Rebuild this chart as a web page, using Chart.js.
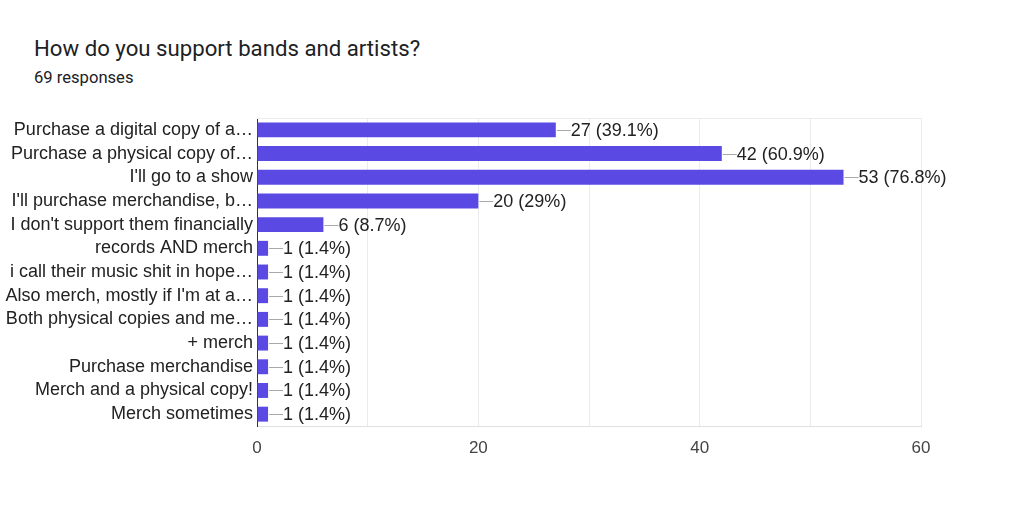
<!DOCTYPE html>
<html>
<head>
<meta charset="utf-8">
<script src="https://cdn.jsdelivr.net/npm/chart.js@4.4.0/dist/chart.umd.min.js"></script>
<style>
  html, body { margin: 0; padding: 0; background: #fff; }
  #wrap { position: relative; width: 1024px; height: 515px; font-family: Roboto, Arial, sans-serif; }
  #title { position: absolute; left: 34px; top: 35px; font-size: 22.2px; color: #202124; white-space: nowrap; }
  #sub { position: absolute; left: 34px; top: 68px; font-size: 16.6px; color: #202124; white-space: nowrap; }
  canvas { position: absolute; left: 0; top: 0; }
</style>
</head>
<body>
<div id="wrap">
  <div id="title">How do you support bands and artists?</div>
  <div id="sub">69 responses</div>
  <canvas id="c" width="1024" height="515"></canvas>
</div>
<script>
const categories = [
  "Purchase a digital copy of a\u2026",
  "Purchase a physical copy of\u2026",
  "I'll go to a show",
  "I'll purchase merchandise, b\u2026",
  "I don't support them financially",
  "records AND merch",
  "i call their music shit in hope\u2026",
  "Also merch, mostly if I'm at a\u2026",
  "Both physical copies and me\u2026",
  "+ merch",
  "Purchase merchandise",
  "Merch and a physical copy!",
  "Merch sometimes"
];
const counts = [27, 42, 53, 20, 6, 1, 1, 1, 1, 1, 1, 1, 1];
const percents = ["39.1", "60.9", "76.8", "29", "8.7", "1.4", "1.4", "1.4", "1.4", "1.4", "1.4", "1.4", "1.4"];
const xTickLabels = [0, 20, 40, 60];

const FONT = '"Liberation Sans", Arial, sans-serif';

const labelPlugin = {
  id: 'valueLabels',
  afterDatasetsDraw(chart) {
    const ctx = chart.ctx;
    const meta = chart.getDatasetMeta(0);
    ctx.save();
    meta.data.forEach((bar, i) => {
      const x = bar.x, y = bar.y;
      ctx.strokeStyle = '#a8a8a8';
      ctx.lineWidth = 1;
      ctx.beginPath();
      ctx.moveTo(x + 1, Math.round(y) + 0.5);
      ctx.lineTo(x + 15, Math.round(y) + 0.5);
      ctx.stroke();
      ctx.fillStyle = '#222222';
      ctx.font = '18px ' + FONT;
      ctx.textBaseline = 'middle';
      ctx.textAlign = 'left';
      ctx.fillText(counts[i] + ' (' + percents[i] + '%)', x + 15, y + 1);
    });
    ctx.restore();
  },
  beforeDatasetsDraw(chart) {
    const a = chart.chartArea, ctx = chart.ctx;
    ctx.save();
    ctx.strokeStyle = '#ebebeb';
    ctx.lineWidth = 1;
    ctx.beginPath();
    ctx.moveTo(a.left, a.top + 0.5);
    ctx.lineTo(a.right, a.top + 0.5);
    ctx.stroke();
    ctx.restore();
  }
};

new Chart(document.getElementById('c'), {
  type: 'bar',
  data: {
    labels: categories,
    datasets: [{
      data: counts,
      backgroundColor: '#5a4ae3',
      borderWidth: 0,
      categoryPercentage: 1,
      barPercentage: 0.63
    }]
  },
  options: {
    indexAxis: 'y',
    responsive: false,
    animation: false,
    layout: { padding: { top: 118, right: 103, left: 0, bottom: 0 } },
    plugins: { legend: { display: false }, tooltip: { enabled: false } },
    scales: {
      x: {
        min: 0, max: 60,
        afterFit(s) { s.height = 89; },
        ticks: {
          stepSize: 10,
          autoSkip: false,
          maxRotation: 0,
          padding: 12,
          color: '#444444',
          font: { family: FONT, size: 17 },
          callback: v => xTickLabels.includes(v) ? String(v) : ''
        },
        grid: { color: '#ebebeb', drawTicks: false },
        border: { color: '#e0e0e0' }
      },
      y: {
        afterFit(s) { s.width = 257; },
        ticks: {
          autoSkip: false,
          padding: 4,
          color: '#222222',
          font: { family: FONT, size: 18 }
        },
        grid: { display: false, drawTicks: false },
        border: { color: '#333333', width: 1 }
      }
    }
  },
  plugins: [labelPlugin]
});
</script>
</body>
</html>
